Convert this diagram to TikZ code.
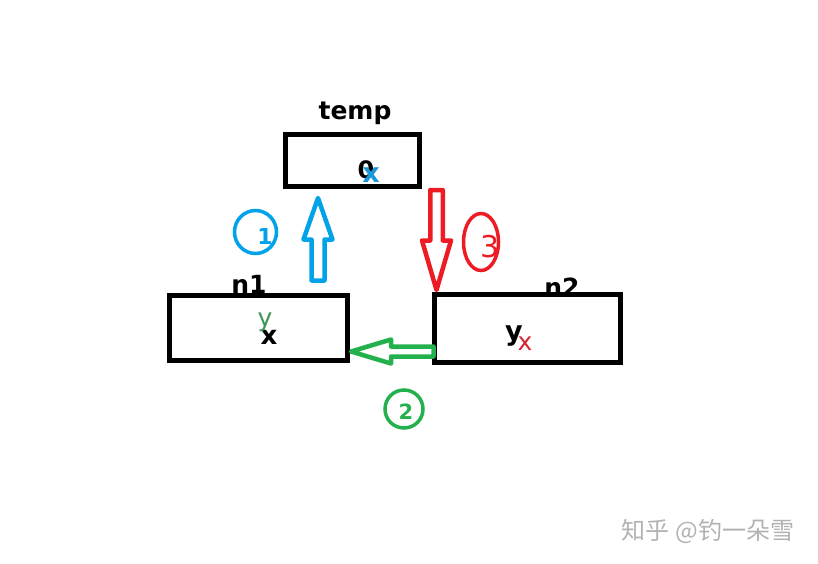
\documentclass[tikz,border=0pt]{standalone}
\usepackage{fontspec}
\setmainfont{DejaVu Sans}
\newfontfamily\cjk{Noto Sans CJK SC}
\usepackage{tikz}
\usetikzlibrary{calc,positioning,shapes.geometric}
\definecolor{pblue}{RGB}{0,162,232}
\definecolor{pred}{RGB}{237,28,36}
\definecolor{pgreen}{RGB}{34,177,76}
\definecolor{tgreen}{RGB}{58,150,82}
\definecolor{tred}{RGB}{214,36,48}
\definecolor{tblue}{RGB}{28,152,216}
\newcommand{\fs}[1]{\fontsize{#1}{#1}\selectfont}

\begin{document}
\begin{tikzpicture}[x=1pt, y=-1pt,
  box/.style={draw, line width=5pt, inner sep=0pt},
  lbl/.style={inner sep=0pt, font=\fs{25}\bfseries},
  val/.style={inner sep=0pt, font=\fs{24}\bfseries},
  hollow/.style={line width=4.5pt, line join=round},
  ring/.style={draw, ellipse, line width=3.5pt, inner sep=0pt}]
  \useasboundingbox (0,0) rectangle (818,564);
  % boxes
  \node[box, minimum width=134.5pt, minimum height=51.5pt] (temp) at (352.25,160.25) {};
  \node[box, minimum width=178pt, minimum height=65.5pt] (n1) at (258.5,327.75) {};
  \node[box, minimum width=186pt, minimum height=68pt] (n2) at (527.5,328.5) {};
  \node[lbl] (templbl) at (355,113) {temp};
  \node[lbl] (n1lbl) at (249,284) {n1};
  \node[lbl] (n2lbl) at (562,287) {n2};
  % contents
  \node[val] (zero) at (366,170) {0};
  \node[val, tblue, font=\fs{27}\bfseries] (tx) at (371,175) {x};
  \node[val, font=\fs{26}\bfseries] (n1x) at (269,337) {x};
  \node[inner sep=0pt, tgreen, font=\fs{25}] (n1y) at (265,322) {y};
  \node[val, font=\fs{27}\bfseries] (n2y) at (514,336) {y};
  \node[inner sep=0pt, tred, font=\fs{25}] (n2x) at (525,344) {x};
  % hollow arrows
  \coordinate (bt) at (318,280.5);
  \coordinate (bh) at (318,198);
  \coordinate (rt) at (436.5,190);
  \coordinate (rh) at (436.5,290);
  \coordinate (gt) at (433.5,351.5);
  \coordinate (gh) at (351,351.5);
  \draw[hollow, pblue] ($(bt)+(-6.5,0)$) -- ++(13,0) -- ++(0,-41) -- ++(8,0) -- (bh)
    -- ++(-14.5,41.5) -- ++(8,0) -- cycle;
  \draw[hollow, pred] ($(rt)+(-6.25,0)$) -- ++(12.5,0) -- ++(0,50.5) -- ++(8.25,0) -- (rh)
    -- ++(-14.5,-49.5) -- ++(8.25,0) -- cycle;
  \draw[hollow, pgreen] ($(gt)+(0,-5)$) -- ++(0,10) -- ++(-42.5,0) -- ++(0,7) -- (gh)
    -- ++(40,-12) -- ++(0,7) -- cycle;
  % step numbers
  \node[ring, pblue, minimum width=42pt, minimum height=43pt] (c1) at (255.5,232) {};
  \node[inner sep=0pt, pblue, font=\fs{22}\bfseries] (s1) at (265,236) {1};
  \node[ring, pred, minimum width=35pt, minimum height=57pt] (c3) at (481,242) {};
  \node[inner sep=0pt, pred, font=\fs{30}] (s3) at (490,247) {3};
  \node[ring, pgreen, minimum width=38pt, minimum height=38pt] (c2) at (404,409) {};
  \node[inner sep=0pt, pgreen, font=\fs{21}\bfseries] (s2) at (406,412) {2};
  % watermark
  \node[inner sep=0pt, black!30, font=\cjk\fs{24}] (mark) at (708,531) {知乎 @钓一朵雪};
\end{tikzpicture}
\end{document}
